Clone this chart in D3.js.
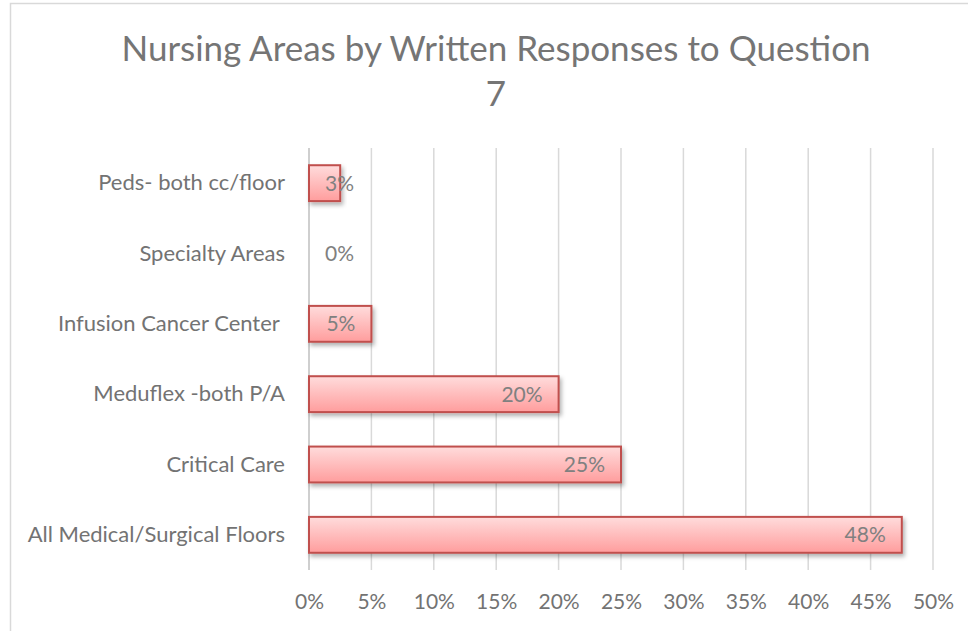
<!DOCTYPE html>
<html><head><meta charset="utf-8">
<script src="https://cdn.jsdelivr.net/npm/d3@7"></script>
<style>body{margin:0;background:#fff}svg{display:block}</style>
</head><body>
<svg id="c" width="968" height="631"></svg>
<script>
const categories = ["Peds- both cc/floor","Specialty Areas","Infusion Cancer Center ","Meduflex -both P/A","Critical Care","All Medical/Surgical Floors"];
const values = [0.025, 0, 0.05, 0.20, 0.25, 0.475];
const labels = ["3%","0%","5%","20%","25%","48%"];
const ticks = [0,0.05,0.10,0.15,0.20,0.25,0.30,0.35,0.40,0.45,0.50];
const titleLines = ["Nursing Areas by Written Responses to Question","7"];

const svg = d3.select("#c");
const font = "Lato, 'Open Sans', sans-serif";
const txt = "#737373";
const m = {left:309, right:933, top:148, bottom:570};

const defs = svg.append("defs");
const g = defs.append("linearGradient").attr("id","bg").attr("x1",0).attr("y1",0).attr("x2",0).attr("y2",1);
g.append("stop").attr("offset","0%").attr("stop-color","#ffdcdc");
g.append("stop").attr("offset","100%").attr("stop-color","#ff9d9d");
const f = defs.append("filter").attr("id","sh").attr("x","-10%").attr("y","-30%").attr("width","130%").attr("height","180%");
f.append("feDropShadow").attr("dx",2).attr("dy",3).attr("stdDeviation",2).attr("flood-color","#000").attr("flood-opacity",0.3);

svg.append("rect").attr("x",10.5).attr("y",3.5).attr("width",1000).attr("height",700)
  .attr("fill","#fff").attr("stroke","#d9d9d9").attr("stroke-width",1.5);

const x = d3.scaleLinear().domain([0,0.5]).range([m.left,m.right]);
const y = d3.scaleBand().domain(categories).range([m.top,m.bottom]).paddingInner(0.49).paddingOuter(0.245);

// gridlines
svg.append("g").selectAll("line").data(ticks).join("line")
  .attr("x1",d=>x(d)).attr("x2",d=>x(d)).attr("y1",m.top).attr("y2",m.bottom)
  .attr("stroke",d=>d===0?"#bfbfbf":"#d9d9d9").attr("stroke-width",1.5);

// x axis labels
const xa = svg.append("g").attr("transform",`translate(0,${m.bottom})`)
  .call(d3.axisBottom(x).tickValues(ticks).tickFormat(d3.format(".0%")).tickSize(0).tickPadding(24));
xa.select(".domain").remove();
xa.selectAll("text").attr("font-family",font).attr("font-size",21).attr("fill",txt);

// y axis labels
const ya = svg.append("g").attr("transform",`translate(${m.left},0)`)
  .call(d3.axisLeft(y).tickSize(0).tickPadding(24));
ya.select(".domain").remove();
ya.selectAll("text").attr("font-family",font).attr("font-size",22).attr("fill",txt).style("white-space","pre");

// bars
svg.append("g").selectAll("rect").data(values.map((v,i)=>({v,c:categories[i]})).filter(d=>d.v>0)).join("rect")
  .attr("x",x(0)).attr("y",d=>y(d.c))
  .attr("width",d=>x(d.v)-x(0)).attr("height",y.bandwidth())
  .attr("fill","url(#bg)").attr("stroke","#c0504d").attr("stroke-width",2).attr("filter","url(#sh)");

// data labels
svg.append("g").selectAll("text").data(values).join("text")
  .attr("y",(d,i)=>y(categories[i])+y.bandwidth()/2).attr("dy","0.35em")
  .attr("font-family",font).attr("font-size",21).attr("fill","#808080")
  .text((d,i)=>labels[i])
  .each(function(d){
    const w = this.getComputedTextLength();
    const xs = Math.max(x(d)-16-w, x(0)+16);
    d3.select(this).attr("x",xs);
  });

// title
svg.append("g").selectAll("text").data(titleLines).join("text")
  .attr("x",496).attr("y",(d,i)=>61+i*45).attr("text-anchor","middle")
  .attr("font-family",font).attr("font-size",35).attr("fill","#757575").text(d=>d);
</script>
</body></html>
